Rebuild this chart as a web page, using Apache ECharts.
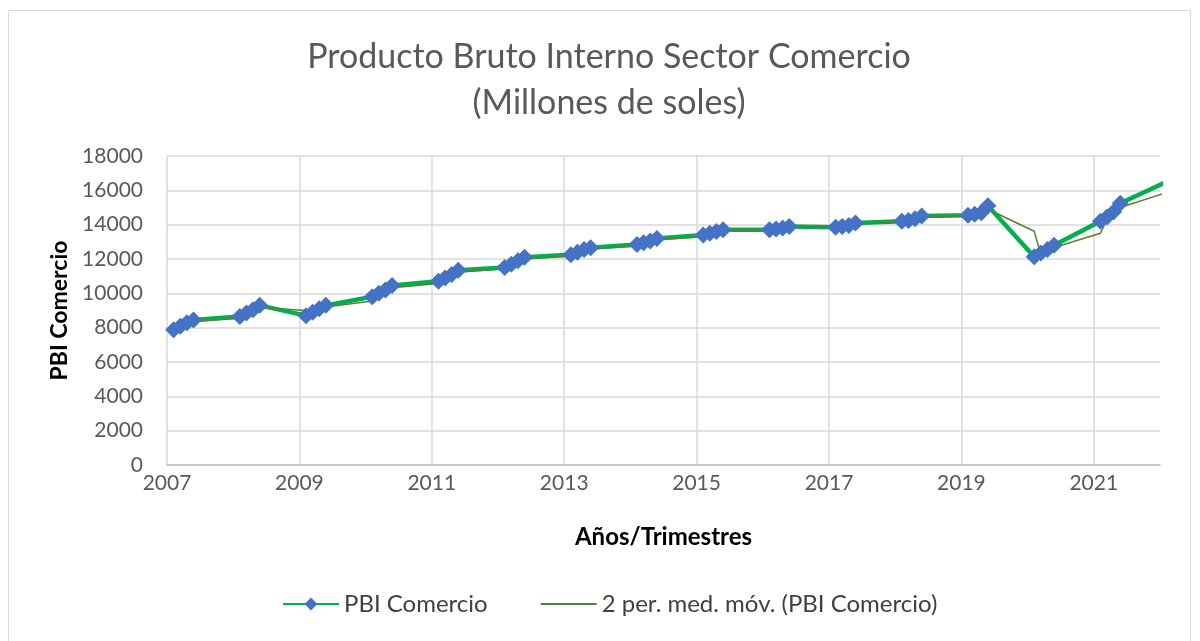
<!DOCTYPE html>
<html>
<head>
<meta charset="utf-8">
<script src="https://cdn.jsdelivr.net/npm/echarts@6/dist/echarts.min.js"></script>
<style>
html,body{margin:0;padding:0;background:#fff;}
#main{width:1200px;height:641px;}
</style>
</head>
<body>
<div id="main"></div>
<script>
// Quarter positions on the date axis (year + quarter/10)
const xPositions = [
  2007.1, 2007.2, 2007.3, 2007.4,
  2008.1, 2008.2, 2008.3, 2008.4,
  2009.1, 2009.2, 2009.3, 2009.4,
  2010.1, 2010.2, 2010.3, 2010.4,
  2011.1, 2011.2, 2011.3, 2011.4,
  2012.1, 2012.2, 2012.3, 2012.4,
  2013.1, 2013.2, 2013.3, 2013.4,
  2014.1, 2014.2, 2014.3, 2014.4,
  2015.1, 2015.2, 2015.3, 2015.4,
  2016.1, 2016.2, 2016.3, 2016.4,
  2017.1, 2017.2, 2017.3, 2017.4,
  2018.1, 2018.2, 2018.3, 2018.4,
  2019.1, 2019.2, 2019.3, 2019.4,
  2020.1, 2020.2, 2020.3, 2020.4,
  2021.1, 2021.2, 2021.3, 2021.4,
  2022.1
];
// PBI Comercio (millones de soles)
const pbiComercio = [
  7880, 8080, 8280, 8450,
  8650, 8850, 9050, 9300,
  8700, 8900, 9100, 9300,
  9800, 10000, 10200, 10450,
  10700, 10900, 11100, 11350,
  11500, 11700, 11900, 12100,
  12250, 12400, 12550, 12650,
  12850, 12950, 13050, 13200,
  13400, 13500, 13600, 13700,
  13700, 13750, 13800, 13900,
  13850, 13900, 13950, 14100,
  14200, 14250, 14350, 14500,
  14550, 14600, 14700, 15100,
  12130, 12350, 12550, 12800,
  14200, 14450, 14750, 15250,
  16500
];
const yTicks = [0, 2000, 4000, 6000, 8000, 10000, 12000, 14000, 16000, 18000];
const xTickLabels = [2007, 2009, 2011, 2013, 2015, 2017, 2019, 2021];

const titleText = 'Producto Bruto Interno Sector Comercio\n(Millones de soles)';
const seriesName = 'PBI Comercio';
const maName = '2 per. med. móv. (PBI Comercio)';

// Build data for the library
const mainData = xPositions.map((x, i) => [x, pbiComercio[i]]);
// 2-period moving average (Excel trendline), plotted at the second point's x
const maData = [];
for (let i = 1; i < pbiComercio.length; i++) {
  maData.push([xPositions[i], (pbiComercio[i - 1] + pbiComercio[i]) / 2]);
}

const FONT = 'Lato';
const chart = echarts.init(document.getElementById('main'), null, {renderer: 'canvas'});
chart.setOption({
  animation: false,
  backgroundColor: '#ffffff',
  textStyle: {fontFamily: FONT},
  graphic: [{
    type: 'rect',
    shape: {x: 8.5, y: 10.5, width: 1182, height: 640},
    style: {fill: 'none', stroke: '#D9D9D9', lineWidth: 1},
    silent: true, z: -1
  }],
  title: {
    text: titleText,
    left: 609,
    top: 34,
    padding: 0,
    textAlign: 'center',
    textStyle: {fontFamily: FONT, fontSize: 34, fontWeight: 'normal', color: '#595959', lineHeight: 46}
  },
  legend: {
    left: 282,
    top: 592,
    padding: 0,
    itemWidth: 56,
    itemHeight: 16,
    itemGap: 52,
    textStyle: {fontFamily: FONT, fontSize: 24, color: '#404040'},
    data: [
      {name: seriesName},
      {name: maName, itemStyle: {opacity: 0}}
    ]
  },
  grid: {left: 167, right: 40, top: 156, bottom: 176, containLabel: false},
  xAxis: {
    type: 'value',
    min: 2007,
    max: 2022,
    interval: 2,
    name: 'Años/Trimestres',
    nameLocation: 'middle',
    nameGap: 60,
    nameTextStyle: {fontFamily: FONT, fontSize: 24, fontWeight: 'bold', color: '#000000'},
    axisLine: {show: true, lineStyle: {color: '#BFBFBF', width: 1.5}},
    axisTick: {show: false},
    axisLabel: {
      margin: 8,
      fontFamily: FONT, fontSize: 21, color: '#595959',
      showMaxLabel: false,
      formatter: v => (xTickLabels.indexOf(v) >= 0 ? String(v) : '')
    },
    splitLine: {show: true, showMaxLine: false, lineStyle: {color: '#D9D9D9', width: 1.5}}
  },
  yAxis: {
    type: 'value',
    min: yTicks[0],
    max: yTicks[yTicks.length - 1],
    interval: 2000,
    name: 'PBI Comercio',
    nameLocation: 'middle',
    nameGap: 96,
    nameTextStyle: {fontFamily: FONT, fontSize: 23, fontWeight: 'bold', color: '#000000'},
    axisLine: {show: false},
    axisTick: {show: false},
    axisLabel: {
      margin: 24,
      fontFamily: FONT, fontSize: 21, color: '#595959',
      formatter: v => String(v)
    },
    splitLine: {show: true, lineStyle: {color: '#D9D9D9', width: 1.5}}
  },
  series: [
    {
      name: seriesName,
      type: 'line',
      data: mainData,
      clip: true,
      symbol: 'diamond',
      symbolSize: 17,
      showAllSymbol: true,
      lineStyle: {color: '#00B050', width: 4.5},
      itemStyle: {color: '#4472C4', borderWidth: 0},
      emphasis: {disabled: true}
    },
    {
      name: maName,
      type: 'line',
      data: maData,
      clip: true,
      symbol: 'none',
      lineStyle: {color: '#548235', width: 1.5},
      itemStyle: {color: '#7FA864'},
      emphasis: {disabled: true}
    }
  ]
});
</script>
</body>
</html>
